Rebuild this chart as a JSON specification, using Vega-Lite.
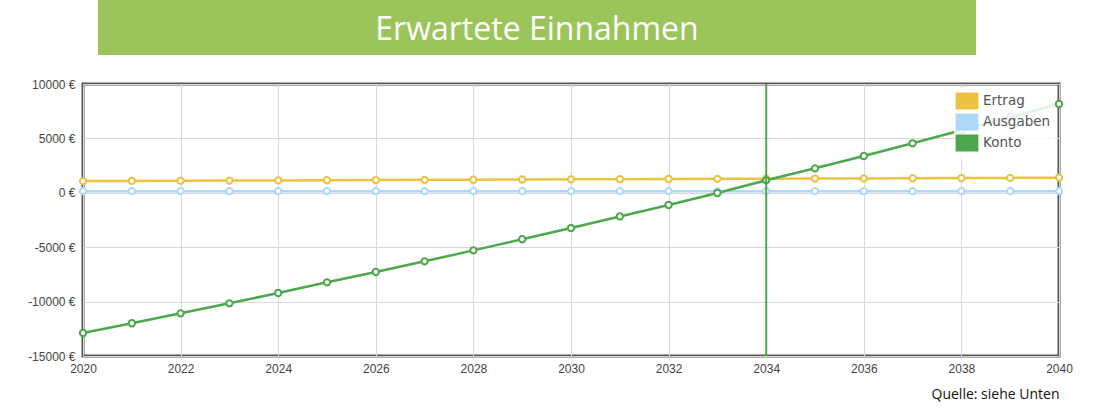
{
  "$schema": "https://vega.github.io/schema/vega-lite/v6.json",
  "padding": {"left": 26, "top": 0, "right": 0, "bottom": 0},
  "spacing": 21,
  "background": "white",
  "config": {
    "view": {"stroke": null},
    "font": "Liberation Sans"
  },
  "resolve": {"scale": {"color": "independent"}, "legend": {"color": "independent"}},
  "vconcat": [
    {
      "width": 893,
      "height": 55,
      "data": {"values": [{"title": "Erwartete Einnahmen"}]},
      "layer": [
        {
          "mark": {"type": "rect", "color": "#9bc45a"},
          "encoding": {
            "x": {"field": "title", "type": "nominal", "axis": null,
                  "scale": {"paddingInner": 0, "paddingOuter": 0.00854, "align": 1}}
          }
        },
        {
          "mark": {"type": "text", "color": "white", "fontSize": 32, "font": "Open Sans", "baseline": "middle", "align": "center", "dy": 2},
          "encoding": {
            "x": {"field": "title", "type": "nominal", "axis": null},
            "text": {"field": "title"}
          }
        }
      ]
    },
    {
      "width": 976,
      "height": 272,
      "view": {"stroke": "#545454", "strokeWidth": 3},
      "data": {"values": [
        {"year": 2020, "series": "Ertrag", "value": 1080},
        {"year": 2021, "series": "Ertrag", "value": 1095},
        {"year": 2022, "series": "Ertrag", "value": 1110},
        {"year": 2023, "series": "Ertrag", "value": 1125},
        {"year": 2024, "series": "Ertrag", "value": 1140},
        {"year": 2025, "series": "Ertrag", "value": 1155},
        {"year": 2026, "series": "Ertrag", "value": 1170},
        {"year": 2027, "series": "Ertrag", "value": 1190},
        {"year": 2028, "series": "Ertrag", "value": 1205},
        {"year": 2029, "series": "Ertrag", "value": 1220},
        {"year": 2030, "series": "Ertrag", "value": 1235},
        {"year": 2031, "series": "Ertrag", "value": 1250},
        {"year": 2032, "series": "Ertrag", "value": 1265},
        {"year": 2033, "series": "Ertrag", "value": 1280},
        {"year": 2034, "series": "Ertrag", "value": 1295},
        {"year": 2035, "series": "Ertrag", "value": 1310},
        {"year": 2036, "series": "Ertrag", "value": 1325},
        {"year": 2037, "series": "Ertrag", "value": 1340},
        {"year": 2038, "series": "Ertrag", "value": 1355},
        {"year": 2039, "series": "Ertrag", "value": 1370},
        {"year": 2040, "series": "Ertrag", "value": 1390},
        {"year": 2020, "series": "Ausgaben", "value": 150},
        {"year": 2021, "series": "Ausgaben", "value": 150},
        {"year": 2022, "series": "Ausgaben", "value": 150},
        {"year": 2023, "series": "Ausgaben", "value": 150},
        {"year": 2024, "series": "Ausgaben", "value": 150},
        {"year": 2025, "series": "Ausgaben", "value": 150},
        {"year": 2026, "series": "Ausgaben", "value": 150},
        {"year": 2027, "series": "Ausgaben", "value": 150},
        {"year": 2028, "series": "Ausgaben", "value": 150},
        {"year": 2029, "series": "Ausgaben", "value": 150},
        {"year": 2030, "series": "Ausgaben", "value": 150},
        {"year": 2031, "series": "Ausgaben", "value": 150},
        {"year": 2032, "series": "Ausgaben", "value": 150},
        {"year": 2033, "series": "Ausgaben", "value": 150},
        {"year": 2034, "series": "Ausgaben", "value": 150},
        {"year": 2035, "series": "Ausgaben", "value": 150},
        {"year": 2036, "series": "Ausgaben", "value": 150},
        {"year": 2037, "series": "Ausgaben", "value": 150},
        {"year": 2038, "series": "Ausgaben", "value": 150},
        {"year": 2039, "series": "Ausgaben", "value": 150},
        {"year": 2040, "series": "Ausgaben", "value": 150},
        {"year": 2020, "series": "Konto", "value": -12880},
        {"year": 2021, "series": "Konto", "value": -11990},
        {"year": 2022, "series": "Konto", "value": -11080},
        {"year": 2023, "series": "Konto", "value": -10160},
        {"year": 2024, "series": "Konto", "value": -9210},
        {"year": 2025, "series": "Konto", "value": -8230},
        {"year": 2026, "series": "Konto", "value": -7280},
        {"year": 2027, "series": "Konto", "value": -6300},
        {"year": 2028, "series": "Konto", "value": -5290},
        {"year": 2029, "series": "Konto", "value": -4270},
        {"year": 2030, "series": "Konto", "value": -3240},
        {"year": 2031, "series": "Konto", "value": -2170},
        {"year": 2032, "series": "Konto", "value": -1120},
        {"year": 2033, "series": "Konto", "value": -20},
        {"year": 2034, "series": "Konto", "value": 1150},
        {"year": 2035, "series": "Konto", "value": 2250},
        {"year": 2036, "series": "Konto", "value": 3380},
        {"year": 2037, "series": "Konto", "value": 4550},
        {"year": 2038, "series": "Konto", "value": 5750},
        {"year": 2039, "series": "Konto", "value": 6950},
        {"year": 2040, "series": "Konto", "value": 8160}
      ]},
      "layer": [
        {
          "mark": {"type": "line", "strokeWidth": 2.5, "clip": false,
                   "point": {"filled": false, "fill": "white", "size": 40, "strokeWidth": 2}},
          "encoding": {
            "x": {"field": "year", "type": "quantitative",
                  "scale": {"domain": [2020, 2040], "nice": false, "zero": false},
                  "axis": {"values": [2020, 2022, 2024, 2026, 2028, 2030, 2032, 2034, 2036, 2038, 2040],
                           "format": "d", "domain": false, "ticks": false, "labelPadding": 7, "labelFlush": false,
                           "labelFontSize": 12, "labelColor": "#444444", "labelFont": "Liberation Sans",
                           "gridColor": "#d8d8d8", "gridWidth": 1,
                           "title": "Quelle: siehe Unten", "titleAnchor": "end", "titleFont": "Open Sans",
                           "titleFontSize": 14, "titleFontWeight": "normal", "titleColor": "#111111", "titlePadding": 13}},
            "y": {"field": "value", "type": "quantitative",
                  "scale": {"domain": [-15000, 10000], "nice": false},
                  "axis": {"values": [-15000, -10000, -5000, 0, 5000, 10000],
                           "labelExpr": "datum.value + ' €'", "domain": false, "ticks": false, "labelPadding": 8, "labelFlush": false,
                           "labelFontSize": 12, "labelColor": "#444444", "labelFont": "Liberation Sans",
                           "gridColor": "#d8d8d8", "gridWidth": 1, "title": null}},
            "color": {"field": "series", "type": "nominal",
                      "scale": {"domain": ["Ertrag", "Ausgaben", "Konto"], "range": ["#edc240", "#afd8f8", "#4da74d"]},
                      "legend": {"title": null, "orient": "top-right", "offset": 4,
                                 "fillColor": "rgba(255,255,255,0.85)", "padding": 4,
                                 "symbolType": "M-1.3,-0.94H1.3V0.94H-1.3Z", "symbolSize": 256,
                                 "labelFont": "DejaVu Sans", "labelFontSize": 13.5, "labelColor": "#545454",
                                 "rowPadding": -3, "labelOffset": 7,
                                 "encode": {"symbols": {"update": {
                                   "fill": {"signal": "datum.value === 'Ertrag' ? '#edc240' : datum.value === 'Ausgaben' ? '#afd8f8' : '#4da74d'"},
                                   "fillOpacity": {"value": 1},
                                   "stroke": {"value": "#cccccc"},
                                   "strokeWidth": {"value": 2}}}}}}
          }
        },
        {
          "data": {"values": [{"year": 2034}]},
          "mark": {"type": "rule", "color": "#4da74d", "strokeWidth": 2},
          "encoding": {"x": {"field": "year", "type": "quantitative"}}
        }
      ]
    }
  ]
}
